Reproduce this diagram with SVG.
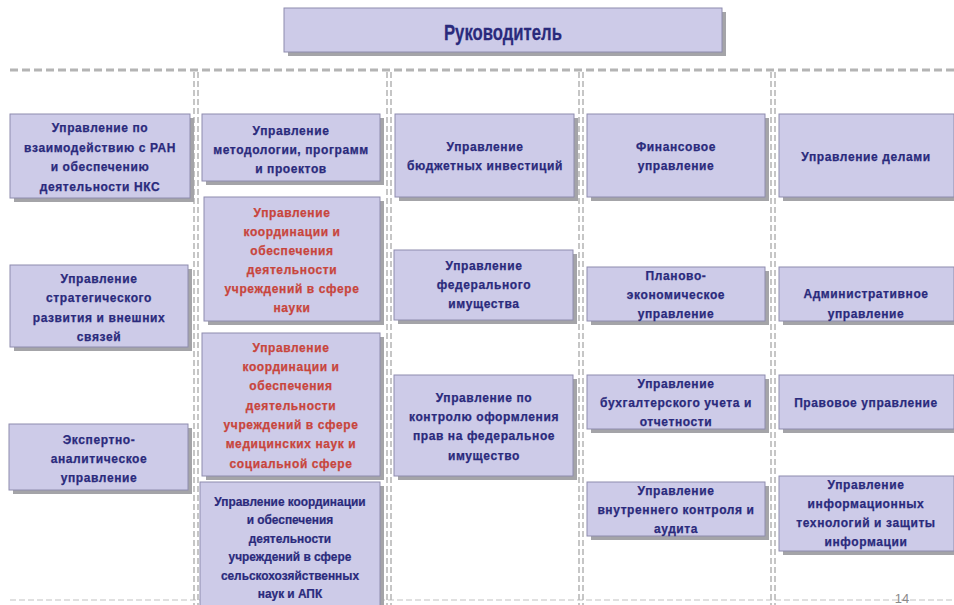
<svg xmlns="http://www.w3.org/2000/svg" width="954" height="605" viewBox="0 0 954 605">
<style>
.sh{fill:#a4a4a8}
.bx{fill:#cdcbe8;stroke:#8e8cae;stroke-width:1}
.t{font-family:"Liberation Sans",Arial,sans-serif;font-weight:bold;font-size:12px;letter-spacing:0.6px;fill:#2a2a7c;stroke:#2a2a7c;stroke-width:0.25px;text-anchor:middle}
.r{fill:#c8453c;stroke:#c8453c}
.n{letter-spacing:0px;font-size:13.5px}
.hd{stroke:#b4b4b4;stroke-width:3;stroke-dasharray:8 4;fill:none}
.vd{stroke:#b4b4b4;stroke-width:1.5;stroke-dasharray:6 3;fill:none}
.bd{stroke:#e0e0e0;stroke-width:2;stroke-dasharray:6 3;fill:none}
</style>
<rect width="954" height="605" fill="#ffffff"/>
<g id="connectors">
<line class="hd" x1="10" y1="70" x2="954" y2="70"/>
<line class="bd" x1="10" y1="600" x2="954" y2="600"/>
<line class="vd" x1="194" y1="72" x2="194" y2="605"/>
<line class="vd" x1="198" y1="72" x2="198" y2="605"/>
<line class="vd" x1="387" y1="72" x2="387" y2="605"/>
<line class="vd" x1="391" y1="72" x2="391" y2="605"/>
<line class="vd" x1="579" y1="72" x2="579" y2="605"/>
<line class="vd" x1="583" y1="72" x2="583" y2="605"/>
<line class="vd" x1="771" y1="72" x2="771" y2="605"/>
<line class="vd" x1="775" y1="72" x2="775" y2="605"/>
</g>
<g id="head">
<rect class="sh" x="288" y="12" width="438" height="44"/>
<rect class="bx" x="284" y="8" width="438" height="44"/>
<text class="t" transform="scale(0.76,1)" x="661.8" y="40" style="font-size:22px;letter-spacing:0px">Руководитель</text>
</g>
<g id="c1b1">
<rect class="sh" x="14" y="118" width="180" height="84"/>
<rect class="bx" x="10" y="114" width="180" height="84"/>
<text class="t" x="100"><tspan x="100" y="132">Управление по</tspan><tspan x="100" y="152">взаимодействию с РАН</tspan><tspan x="100" y="171">и обеспечению</tspan><tspan x="100" y="191">деятельности НКС</tspan></text>
</g>
<g id="c1b2">
<rect class="sh" x="14" y="269" width="178" height="82"/>
<rect class="bx" x="10" y="265" width="178" height="82"/>
<text class="t" x="99"><tspan x="99" y="283">Управление</tspan><tspan x="99" y="302">стратегического</tspan><tspan x="99" y="322">развития и внешних</tspan><tspan x="99" y="341">связей</tspan></text>
</g>
<g id="c1b3">
<rect class="sh" x="13" y="428" width="179" height="66"/>
<rect class="bx" x="9" y="424" width="179" height="66"/>
<text class="t" x="99"><tspan x="99" y="444">Экспертно-</tspan><tspan x="99" y="463">аналитическое</tspan><tspan x="99" y="482">управление</tspan></text>
</g>
<g id="c2b1">
<rect class="sh" x="206" y="118" width="178" height="67"/>
<rect class="bx" x="202" y="114" width="178" height="67"/>
<text class="t" x="291"><tspan x="291" y="135">Управление</tspan><tspan x="291" y="154">методологии, программ</tspan><tspan x="291" y="173">и проектов</tspan></text>
</g>
<g id="c2b2">
<rect class="sh" x="208" y="201" width="176" height="124"/>
<rect class="bx" x="204" y="197" width="176" height="124"/>
<text class="t r" x="292"><tspan x="292" y="217">Управление</tspan><tspan x="292" y="236">координации и</tspan><tspan x="292" y="255">обеспечения</tspan><tspan x="292" y="274">деятельности</tspan><tspan x="292" y="293">учреждений в сфере</tspan><tspan x="292" y="312">науки</tspan></text>
</g>
<g id="c2b3">
<rect class="sh" x="206" y="337" width="178" height="143"/>
<rect class="bx" x="202" y="333" width="178" height="143"/>
<text class="t r" x="291"><tspan x="291" y="352">Управление</tspan><tspan x="291" y="371">координации и</tspan><tspan x="291" y="390">обеспечения</tspan><tspan x="291" y="410">деятельности</tspan><tspan x="291" y="429">учреждений в сфере</tspan><tspan x="291" y="448">медицинских наук и</tspan><tspan x="291" y="468">социальной сфере</tspan></text>
</g>
<g id="c2b4">
<rect class="sh" x="204" y="486" width="180" height="124"/>
<rect class="bx" x="200" y="482" width="180" height="124"/>
<text class="t n" transform="scale(0.88,1)"><tspan x="329.5" y="506">Управление координации</tspan><tspan x="329.5" y="524">и обеспечения</tspan><tspan x="329.5" y="543">деятельности</tspan><tspan x="329.5" y="561">учреждений в сфере</tspan><tspan x="329.5" y="580">сельскохозяйственных</tspan><tspan x="329.5" y="598">наук и АПК</tspan></text>
</g>
<g id="c3b1">
<rect class="sh" x="399" y="118" width="179" height="83"/>
<rect class="bx" x="395" y="114" width="179" height="83"/>
<text class="t" x="485"><tspan x="485" y="151">Управление</tspan><tspan x="485" y="170">бюджетных инвестиций</tspan></text>
</g>
<g id="c3b2">
<rect class="sh" x="398" y="254" width="179" height="70"/>
<rect class="bx" x="394" y="250" width="179" height="70"/>
<text class="t" x="484"><tspan x="484" y="270">Управление</tspan><tspan x="484" y="289">федерального</tspan><tspan x="484" y="308">имущества</tspan></text>
</g>
<g id="c3b3">
<rect class="sh" x="398" y="379" width="179" height="101"/>
<rect class="bx" x="394" y="375" width="179" height="101"/>
<text class="t" x="484"><tspan x="484" y="402">Управление по</tspan><tspan x="484" y="421">контролю оформления</tspan><tspan x="484" y="440">прав на федеральное</tspan><tspan x="484" y="460">имущество</tspan></text>
</g>
<g id="c4b1">
<rect class="sh" x="591" y="118" width="178" height="83"/>
<rect class="bx" x="587" y="114" width="178" height="83"/>
<text class="t" x="676"><tspan x="676" y="151">Финансовое</tspan><tspan x="676" y="170">управление</tspan></text>
</g>
<g id="c4b2">
<rect class="sh" x="591" y="271" width="178" height="54"/>
<rect class="bx" x="587" y="267" width="178" height="54"/>
<text class="t" x="676"><tspan x="676" y="280">Планово-</tspan><tspan x="676" y="299">экономическое</tspan><tspan x="676" y="318">управление</tspan></text>
</g>
<g id="c4b3">
<rect class="sh" x="591" y="379" width="178" height="54"/>
<rect class="bx" x="587" y="375" width="178" height="54"/>
<text class="t" x="676"><tspan x="676" y="388">Управление</tspan><tspan x="676" y="407">бухгалтерского учета и</tspan><tspan x="676" y="426">отчетности</tspan></text>
</g>
<g id="c4b4">
<rect class="sh" x="591" y="486" width="178" height="54"/>
<rect class="bx" x="587" y="482" width="178" height="54"/>
<text class="t" x="676"><tspan x="676" y="495">Управление</tspan><tspan x="676" y="514">внутреннего контроля и</tspan><tspan x="676" y="533">аудита</tspan></text>
</g>
<g id="c5b1">
<rect class="sh" x="783" y="118" width="175" height="83"/>
<rect class="bx" x="779" y="114" width="175" height="83"/>
<text class="t" x="866" y="161">Управление делами</text>
</g>
<g id="c5b2">
<rect class="sh" x="783" y="271" width="175" height="54"/>
<rect class="bx" x="779" y="267" width="175" height="54"/>
<text class="t" x="866"><tspan x="866" y="298">Административное</tspan><tspan x="866" y="318">управление</tspan></text>
</g>
<g id="c5b3">
<rect class="sh" x="783" y="379" width="175" height="54"/>
<rect class="bx" x="779" y="375" width="175" height="54"/>
<text class="t" x="866" y="407">Правовое управление</text>
</g>
<g id="c5b4">
<rect class="sh" x="783" y="480" width="175" height="75"/>
<rect class="bx" x="779" y="476" width="175" height="75"/>
<text class="t" x="866"><tspan x="866" y="489">Управление</tspan><tspan x="866" y="508">информационных</tspan><tspan x="866" y="527">технологий и защиты</tspan><tspan x="866" y="546">информации</tspan></text>
</g>
<text x="902" y="603" style="font-family:'Liberation Sans',sans-serif;font-size:13px;fill:#8a8a8a;text-anchor:middle">14</text>
</svg>
